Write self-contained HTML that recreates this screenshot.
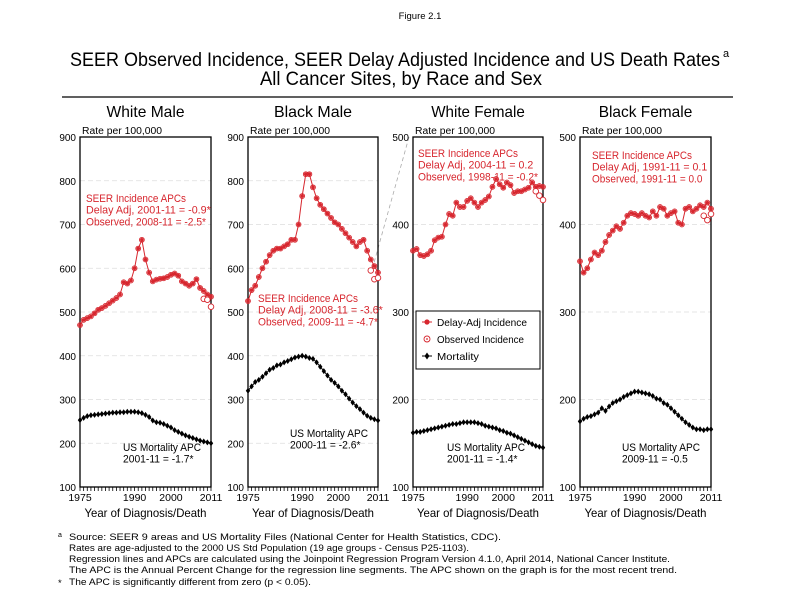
<!DOCTYPE html>
<html><head><meta charset="utf-8"><style>
body{margin:0;background:#fff}
svg{display:block;font-family:"Liberation Sans",Arial,sans-serif}
</style></head><body>
<svg id="s" width="792" height="612" viewBox="0 0 792 612" xmlns="http://www.w3.org/2000/svg">
<text x="420" y="19" font-size="9.5" text-anchor="middle">Figure 2.1</text>
<text x="70" y="66" font-size="19" textLength="650" lengthAdjust="spacingAndGlyphs">SEER Observed Incidence, SEER Delay Adjusted Incidence and US Death Rates</text>
<text x="723" y="57" font-size="11">a</text>
<text x="401" y="85" font-size="19" text-anchor="middle" textLength="282" lengthAdjust="spacingAndGlyphs">All Cancer Sites, by Race and Sex</text>
<line x1="62" y1="97" x2="733" y2="97" stroke="#000" stroke-width="1.2"/>
<line x1="409" y1="137" x2="372" y2="270" stroke="#aaa" stroke-width="0.8" stroke-dasharray="4,3"/>
<g font-size="9.5">
<text x="58" y="537" font-size="7">a</text>
<text x="69" y="540" textLength="432" lengthAdjust="spacingAndGlyphs">Source: SEER 9 areas and US Mortality Files (National Center for Health Statistics, CDC).</text>
<text x="69" y="551" textLength="400" lengthAdjust="spacingAndGlyphs">Rates are age-adjusted to the 2000 US Std Population (19 age groups - Census P25-1103).</text>
<text x="69" y="562" textLength="601" lengthAdjust="spacingAndGlyphs">Regression lines and APCs are calculated using the Joinpoint Regression Program Version 4.1.0, April 2014, National Cancer Institute.</text>
<text x="69" y="573" textLength="608" lengthAdjust="spacingAndGlyphs">The APC is the Annual Percent Change for the regression line segments. The APC shown on the graph is for the most recent trend.</text>
<text x="58" y="586">*</text>
<text x="69" y="585" textLength="242" lengthAdjust="spacingAndGlyphs">The APC is significantly different from zero (p &lt; 0.05).</text>
</g>
</svg>
<script>
const S=document.getElementById('s');const NS='http://www.w3.org/2000/svg';
function el(t,a,txt){const e=document.createElementNS(NS,t);for(const k in a)e.setAttribute(k,a[k]);if(txt!=null)e.textContent=txt;S.appendChild(e);return e;}
const RED='#d7262e';
const P=[
{t:'White Male',x0:80,x1:211,lo:100,hi:900,
inc:[470,482,486,490,497,505,509,514,520,526,532,540,568,565,572,600,645,665,620,590,570,574,576,577,580,585,588,583,570,565,560,565,575,555,548,540,535],
obs:[530,528,512],
mort:[253,258,262,264,265,266,267,268,269,270,270,271,271,272,272,272,271,269,265,260,252,248,247,244,240,236,230,226,222,218,215,212,209,206,204,202,200],
it:[86,202,'SEER Incidence APCs','Delay Adj, 2001-11 = -0.9*','Observed, 2008-11 = -2.5*'],
mt:[123,451,'US Mortality APC','2001-11 = -1.7*']},
{t:'Black Male',x0:248,x1:378,lo:100,hi:900,
inc:[525,550,560,580,600,615,630,640,645,645,650,655,665,665,700,765,815,815,785,760,745,735,725,715,705,700,690,680,670,660,650,660,665,640,620,605,590],
obs:[595,575,578],
mort:[320,330,340,345,352,360,368,372,378,380,385,388,392,396,398,400,398,395,393,385,375,365,355,345,338,330,320,312,302,293,285,278,270,263,258,255,252],
it:[258,302,'SEER Incidence APCs','Delay Adj, 2008-11 = -3.6*','Observed, 2009-11 = -4.7*'],
mt:[290,437,'US Mortality APC','2000-11 = -2.6*']},
{t:'White Female',x0:413,x1:543,lo:100,hi:500,
inc:[370,372,365,364,366,370,382,385,386,400,412,410,425,420,420,427,430,425,420,425,428,432,443,452,446,442,448,445,436,438,438,440,442,448,443,444,443],
obs:[438,433,428],
mort:[162,163,163,164,165,166,167,168,169,170,171,172,172,173,174,174,174,174,173,172,170,169,168,167,165,164,162,161,159,157,155,153,151,149,147,146,145],
it:[418,157,'SEER Incidence APCs','Delay Adj, 2004-11 = 0.2','Observed, 1998-11 = -0.2*'],
mt:[447,451,'US Mortality APC','2001-11 = -1.4*']},
{t:'Black Female',x0:580,x1:711,lo:100,hi:500,
inc:[358,345,350,360,368,365,370,380,388,393,398,395,402,410,413,412,410,413,410,408,415,410,420,418,410,413,415,402,400,418,420,415,418,422,420,425,418],
obs:[410,405,412],
mort:[175,178,180,181,183,185,190,187,192,196,198,200,203,205,207,209,209,208,207,206,204,201,200,196,194,190,186,182,178,174,171,168,166,166,165,166,166],
it:[592,159,'SEER Incidence APCs','Delay Adj, 1991-11 = 0.1','Observed, 1991-11 = 0.0'],
mt:[622,451,'US Mortality APC','2009-11 = -0.5']}
];
const Y0=137,Y1=487;
P.forEach((p,pi)=>{
 const X=yr=>p.x0+(yr-1975)/36*(p.x1-p.x0);
 const Y=v=>Y1-(v-p.lo)/(p.hi-p.lo)*(Y1-Y0);
 el('text',{x:(p.x0+p.x1)/2,y:117,'font-size':16,'text-anchor':'middle',textLength:p.t.length*7.8,lengthAdjust:'spacingAndGlyphs'},p.t);
 el('text',{x:p.x0+2,y:134,'font-size':10,textLength:80,lengthAdjust:'spacingAndGlyphs'},'Rate per 100,000');
 for(let v=p.lo;v<=p.hi;v+=100){
  const y=Y(v);
  if(v>p.lo&&v<p.hi)el('line',{x1:p.x0,x2:p.x1,y1:y,y2:y,stroke:'#ddd','stroke-width':0.8,'stroke-dasharray':'5,3'});
  el('text',{x:p.x0-4,y:y+4,'font-size':10,'text-anchor':'end'},v);
 }
 el('rect',{x:p.x0,y:Y0,width:p.x1-p.x0,height:Y1-Y0,fill:'none',stroke:'#000','stroke-width':1.3});
 for(let yr=1975;yr<=2011;yr++){const x=X(yr);el('line',{x1:x,x2:x,y1:Y1,y2:Y1+4,stroke:'#000','stroke-width':0.8});}
 [1975,1990,2000,2011].forEach(yr=>el('text',{x:X(yr),y:501,'font-size':10.5,'text-anchor':'middle'},yr));
 el('text',{x:(p.x0+p.x1)/2,y:517,'font-size':12,'text-anchor':'middle',textLength:122,lengthAdjust:'spacingAndGlyphs'},'Year of Diagnosis/Death');
 const ip=p.inc.map((v,i)=>X(1975+i)+','+Y(v)).join(' ');
 el('polyline',{points:ip,fill:'none',stroke:RED,'stroke-width':1});
 p.inc.forEach((v,i)=>{const x=X(1975+i),y=Y(v);
  el('circle',{cx:x,cy:y,r:2.4,fill:'none',stroke:RED,'stroke-width':0.9});
  el('circle',{cx:x,cy:y,r:1.8,fill:RED});});
 p.obs.forEach((v,i)=>el('circle',{cx:X(2009+i),cy:Y(v),r:2.8,fill:'#fff',stroke:RED,'stroke-width':0.9}));
 const mp=p.mort.map((v,i)=>X(1975+i)+','+Y(v)).join(' ');
 el('polyline',{points:mp,fill:'none',stroke:'#000','stroke-width':1});
 p.mort.forEach((v,i)=>{const x=X(1975+i),y=Y(v);el('path',{d:`M${x} ${y-3}L${x+2.2} ${y}L${x} ${y+3}L${x-2.2} ${y}Z`,fill:'#000'});});
 const it=p.it;
 for(let k=0;k<3;k++)el('text',{x:it[0],y:it[1]+k*11.7,'font-size':11,fill:RED,textLength:k==0?100:(it[2+k].length*4.8),lengthAdjust:'spacingAndGlyphs'},it[2+k]);
 const mt=p.mt;
 el('text',{x:mt[0],y:mt[1],'font-size':11,textLength:78,lengthAdjust:'spacingAndGlyphs'},mt[2]);
 el('text',{x:mt[0],y:mt[1]+11.5,'font-size':11,textLength:mt[3].length*4.7,lengthAdjust:'spacingAndGlyphs'},mt[3]);
});
el('rect',{x:416,y:311,width:124,height:58,fill:'#fff',stroke:'#000','stroke-width':1});
el('line',{x1:422,x2:432,y1:322,y2:322,stroke:RED});el('circle',{cx:427,cy:322,r:2.6,fill:RED});
el('circle',{cx:427,cy:339,r:3,fill:'none',stroke:RED,'stroke-width':0.9});el('circle',{cx:427,cy:339,r:0.9,fill:RED});
el('line',{x1:422,x2:432,y1:356,y2:356,stroke:'#000'});el('path',{d:'M427 352.5L429.4 356L427 359.5L424.6 356Z',fill:'#000'});
[['Delay-Adj Incidence',326,90],['Observed Incidence',343,87],['Mortality',360,42]].forEach(a=>el('text',{x:437,y:a[1],'font-size':10.5,textLength:a[2],lengthAdjust:'spacingAndGlyphs'},a[0]));
</script>
</body></html>
